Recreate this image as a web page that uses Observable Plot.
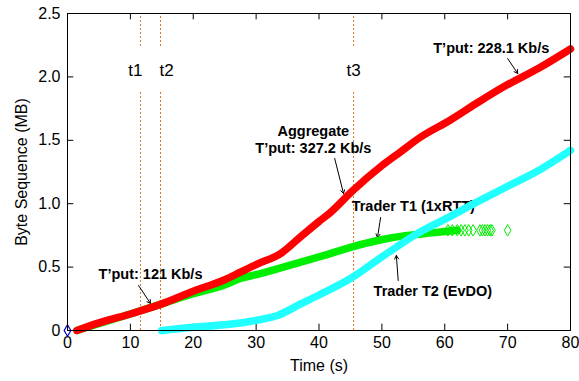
<!DOCTYPE html>
<html>
<head>
<meta charset="utf-8">
<script src="https://cdn.jsdelivr.net/npm/d3@7"></script>
<script src="https://cdn.jsdelivr.net/npm/@observablehq/plot@0.6"></script>
<style>
  html, body { margin: 0; padding: 0; background: #fff; }
  #chart { width: 579px; height: 381px; }
</style>
</head>
<body>
<div id="chart"></div>
<script>
// Aggregate (red)
const aggT  = [1.5, 5, 10, 13.2, 15, 20, 25, 27.5, 30, 34, 37.1, 40, 41.8, 45.3, 50, 53, 56, 60.9, 65, 69.3, 75, 80];
const aggMB = [0, 0.06, 0.13, 0.18, 0.21, 0.31, 0.40, 0.46, 0.52, 0.61, 0.74, 0.86, 0.93, 1.10, 1.30, 1.41, 1.52, 1.66, 1.79, 1.92, 2.07, 2.22];
// Trader T1 (1xRTT) (green), dense part
const t1T  = [1.5, 10, 15, 20, 25, 27.5, 30, 37.1, 40, 45.3, 49.3, 54, 58, 62];
const t1MB = [0, 0.13, 0.21, 0.29, 0.36, 0.41, 0.44, 0.54, 0.58, 0.66, 0.71, 0.75, 0.77, 0.79];
// Trader T1 sparse tail points
const t1TailT  = [60.5, 61.2, 62, 62.6, 63.2, 63.8, 64.5, 65.6, 66, 66.4, 66.8, 67.2, 67.5, 70];
const t1TailMB = [0.79, 0.79, 0.79, 0.79, 0.79, 0.79, 0.79, 0.79, 0.79, 0.79, 0.79, 0.79, 0.79, 0.79];
// Trader T2 (EvDO) (cyan)
const t2T  = [15, 20, 25, 30, 33.5, 37.1, 40, 45, 50, 55.5, 60.9, 65, 69.3, 75.2, 80];
const t2MB = [0, 0.025, 0.045, 0.08, 0.12, 0.21, 0.28, 0.41, 0.58, 0.76, 0.90, 1.01, 1.12, 1.27, 1.42];
// Event markers
const eventNames = ["t1", "t2", "t3"];
const eventTimes = [11.6, 14.8, 45.5];
const eventLabelX = [10.8, 15.75, 45.5];
// Ticks
const xTicks = [0, 10, 20, 30, 40, 50, 60, 70, 80];
const yTicks = [0, 0.5, 1.0, 1.5, 2.0, 2.5];
// Annotations
const annoText = ["T\u2019put: 121 Kb/s", "Aggregate\nT\u2019put: 327.2 Kb/s", "T\u2019put: 228.1 Kb/s", "Trader T1 (1xRTT)", "Trader T2 (EvDO)"];
const annoX = [13.2, 39.1, 67.4, 55.0, 58.1];
const annoY = [0.45, 1.51, 2.23, 0.99, 0.32];
const arrX1 = [11.3, 42.5, 70.0, 49.8, 52.6];
const arrY1 = [0.355, 1.356, 2.145, 0.891, 0.394];
const arrX2 = [13.2, 43.9, 71.6, 49.3, 52.3];
const arrY2 = [0.213, 1.08, 2.027, 0.733, 0.591];

const zip = (xs, ys) => xs.map((x, i) => ({x, y: ys[i]}));
const agg = zip(aggT, aggMB);
const tr1 = zip(t1T, t1MB);
const tr1Tail = zip(t1TailT, t1TailMB);
const tr2 = zip(t2T, t2MB);
const events = eventNames.map((n, i) => ({name: n, x: eventTimes[i], lx: eventLabelX[i]}));
const annos = annoText.map((t, i) => ({text: t, x: annoX[i], y: annoY[i], x1: arrX1[i], y1: arrY1[i], x2: arrX2[i], y2: arrY2[i]}));

const fmtY = d => d === 0 ? "0" : d.toFixed(1);

const chart = Plot.plot({
  width: 579,
  height: 381,
  marginLeft: 67,
  marginRight: 9,
  marginTop: 13,
  marginBottom: 51,
  style: {fontFamily: "'Liberation Sans', Arial, sans-serif", fontSize: "16px", background: "#fff", color: "#000"},
  x: {domain: [0, 80]},
  y: {domain: [0, 2.5]},
  marks: [
    Plot.axisX(xTicks, {tickSize: 0, tickPadding: 6, fontSize: 16, label: "Time (s)", labelAnchor: "center", labelArrow: "none", labelOffset: 40}),
    Plot.axisY(yTicks, {tickSize: 0, tickPadding: 7, fontSize: 16, tickFormat: fmtY, label: "Byte Sequence (MB)", labelAnchor: "center", labelArrow: "none", labelOffset: 52}),
    // inward ticks
    Plot.ruleX(xTicks, {x: d => d, y1: 0, y2: 0.05, stroke: "#000"}),
    Plot.ruleX(xTicks, {x: d => d, y1: 2.45, y2: 2.5, stroke: "#000"}),
    Plot.ruleY(yTicks, {y: d => d, x1: 0, x2: 1.0, stroke: "#000"}),
    Plot.ruleY(yTicks, {y: d => d, x1: 79, x2: 80, stroke: "#000"}),
    // event lines
    Plot.ruleX(events, {x: "x", y1: 2.24, y2: 2.5, stroke: "#d9731f", strokeDasharray: "2,2", strokeWidth: 1}),
    Plot.ruleX(events, {x: "x", y1: 0, y2: 1.89, stroke: "#d9731f", strokeDasharray: "2,2", strokeWidth: 1}),
    Plot.text(events, {x: "lx", y: 2.05, text: "name", fontSize: 17, fill: "#000", textAnchor: "middle", lineAnchor: "middle"}),
    // annotations
    Plot.text(annos, {x: "x", y: "y", text: "text", fontSize: 14.5, fontWeight: "bold", lineHeight: 1.2, fill: "#000", textAnchor: "middle", lineAnchor: "middle"}),
    Plot.arrow(annos, {x1: "x1", y1: "y1", x2: "x2", y2: "y2", stroke: "#000", strokeWidth: 1, headLength: 6}),
    // series
    Plot.line(tr1, {x: "x", y: "y", curve: "monotone-x", stroke: "#00ee00", strokeWidth: 7.5, strokeLinecap: "round"}),
    Plot.dot(tr1Tail, {x: "x", y: "y", symbol: "diamond", r: 3.5, stroke: "#00ee00", fill: "none", strokeWidth: 1}),
    Plot.line(agg, {x: "x", y: "y", curve: "monotone-x", stroke: "#ff0000", strokeWidth: 7.5, strokeLinecap: "round"}),
    Plot.line(tr2, {x: "x", y: "y", curve: "monotone-x", stroke: "#22ffff", strokeWidth: 7.5, strokeLinecap: "round"}),
    Plot.dot([{x: 0, y: 0}], {x: "x", y: "y", symbol: "diamond", r: 3.5, stroke: "#0000cc", fill: "none", strokeWidth: 1.2}),
    Plot.frame({stroke: "#000", strokeWidth: 1})
  ]
});
document.getElementById("chart").appendChild(chart);
</script>
</body>
</html>
